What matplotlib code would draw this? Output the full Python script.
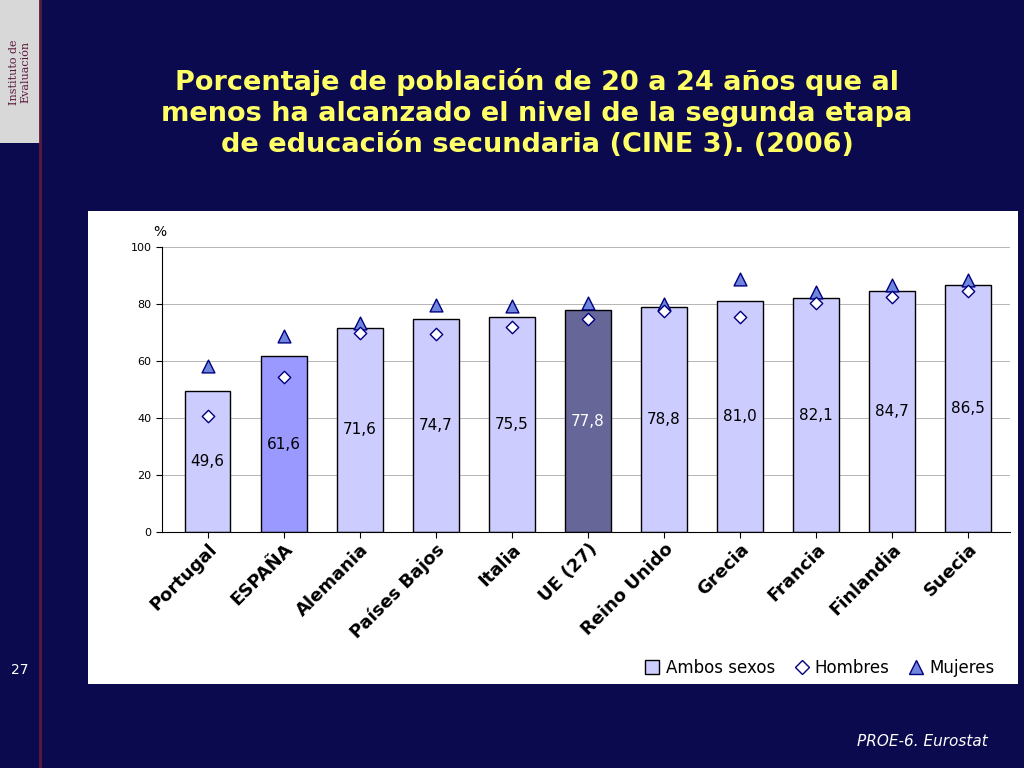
import matplotlib
matplotlib.use("Agg")
import matplotlib.pyplot as plt
from matplotlib.patches import Rectangle
from matplotlib.lines import Line2D

categories = ["Portugal", "ESPAÑA", "Alemania", "Países Bajos", "Italia", "UE (27)",
              "Reino Unido", "Grecia", "Francia", "Finlandia", "Suecia"]
ambos = [49.6, 61.6, 71.6, 74.7, 75.5, 77.8, 78.8, 81.0, 82.1, 84.7, 86.5]
hombres = [40.7, 54.4, 69.8, 69.5, 71.9, 74.7, 77.5, 75.4, 80.4, 82.5, 84.6]
mujeres = [58.2, 68.8, 73.3, 79.6, 79.3, 80.4, 80.0, 88.8, 84.2, 86.7, 88.4]
labels = [f"{v:.1f}".replace(".", ",") for v in ambos]

W, H = 1024, 768
fig = plt.figure(figsize=(W/100, H/100), dpi=100)
fig.patch.set_facecolor("#0b0a4e")

fig.add_artist(plt.Line2D([40/W, 40/W], [0, 1], color="#5a1a3a", lw=2))
fig.add_artist(Rectangle((0, 1-143/H), 40/W, 143/H, facecolor="#d8d8d8", edgecolor="none"))
fig.text(20/W, 1-72/H, "Instituto de\nEvaluación", rotation=90, ha="center", va="center",
         fontsize=8, color="#5a1a3a", fontfamily="DejaVu Serif")
fig.text(20/W, 1-670/H, "27", color="white", fontsize=10, ha="center", va="center")
fig.text(988/W, 1-741/H, "PROE-6. Eurostat", color="white", fontsize=11, style="italic",
         ha="right", va="center")

fig.text(537/W, 1-113/H,
         "Porcentaje de población de 20 a 24 años que al\nmenos ha alcanzado el nivel de la segunda etapa\nde educación secundaria (CINE 3). (2006)",
         ha="center", va="center", color="#ffff66", fontsize=19.5, fontweight="bold",
         linespacing=1.25)

bg = fig.add_axes([88/W, 1-684/H, (1018-88)/W, (684-211)/H], zorder=0)
bg.set_facecolor("white")
bg.set_xticks([]); bg.set_yticks([])
for s in bg.spines.values():
    s.set_visible(False)

ax = fig.add_axes([162/W, 1-532/H, (1010-162)/W, (532-247)/H], zorder=1)
ax.patch.set_alpha(0)
colors = ["#ccccff"] * len(categories)
colors[1] = "#9999ff"
colors[5] = "#666699"
x = list(range(len(categories)))
ax.bar(x, ambos, width=0.6, color=colors, edgecolor="black", linewidth=1, zorder=2)
ax.scatter(x, hombres, marker="D", s=40, facecolor="white", edgecolor="#000080", lw=1, zorder=4)
ax.scatter(x, mujeres, marker="^", s=85, facecolor="#6f86dc", edgecolor="#000080", lw=1, zorder=3)
for i, v in enumerate(ambos):
    ax.text(i, v/2, labels[i], ha="center", va="center", fontsize=11,
            color="white" if i == 5 else "black", zorder=5)
ax.set_ylim(0, 100)
ax.set_xlim(-0.6, len(categories)-0.45)
ax.set_yticks(range(0, 101, 20))
ax.tick_params(axis="y", labelsize=8, length=4)
ax.yaxis.grid(True, color="#aaaaaa", lw=0.6, zorder=0)
ax.set_axisbelow(True)
ax.set_xticks(x)
ax.set_xticklabels(categories, rotation=45, ha="right", rotation_mode="anchor",
                   fontsize=13, fontweight="bold")
ax.tick_params(axis="x", length=4, pad=2)
for s in ["top", "right"]:
    ax.spines[s].set_visible(False)
ax.text(-0.01, 1.04, "%", transform=ax.transAxes, fontsize=10)
handles = [
    Line2D([], [], marker="s", ls="none", ms=10, mfc="#ccccff", mec="black"),
    Line2D([], [], marker="D", ls="none", ms=7, mfc="white", mec="#000080"),
    Line2D([], [], marker="^", ls="none", ms=10, mfc="#6f86dc", mec="#000080"),
]
ax.legend(handles, ["Ambos sexos", "Hombres", "Mujeres"], loc="lower right",
          bbox_to_anchor=(1.0, -0.56), ncol=3, frameon=False,
          fontsize=12, handletextpad=0.2, columnspacing=1.0, handlelength=1.2)

fig.savefig("out.png", dpi=100, facecolor=fig.get_facecolor())
